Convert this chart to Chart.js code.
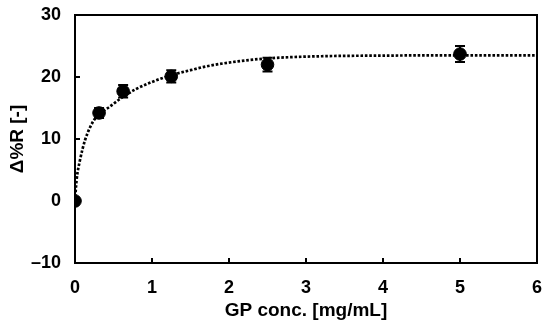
<!DOCTYPE html>
<html>
<head>
<meta charset="utf-8">
<script src="https://cdn.jsdelivr.net/npm/chart.js@4.4.1/dist/chart.umd.min.js"></script>
<style>
    html, body { margin: 0; padding: 0; background: #fff; }
</style>
</head>
<body>
<canvas id="gpCanvas" width="550" height="329"></canvas>
<script>
// measured points (GP conc. vs delta %R)
var concX = [0, 0.3125, 0.625, 1.25, 2.5, 5];
var deltaR = [0, 14.2, 17.7, 20.1, 22.0, 23.7];
var deltaRErr = [0, 0.8, 1.0, 1.0, 1.1, 1.3];

// fitted curve
var fitX = [0, 0.02, 0.065, 0.13, 0.2, 0.28, 0.45, 0.6, 0.8, 1.0, 1.25, 1.5, 1.7, 2.1, 2.5, 3.2, 4, 5, 6];
var fitY = [0, 3.3, 6.6, 9.8, 12.0, 13.6, 15.2, 16.6, 18.1, 19.2, 20.3, 21.1, 21.7, 22.5, 23.0, 23.35, 23.45, 23.5, 23.5];

var xTicks = [0, 1, 2, 3, 4, 5, 6];
var yTicks = [-10, 0, 10, 20, 30];

var FONT = '"Liberation Sans", Arial, sans-serif';

var toPoints = function (xs, ys) {
    var pts = [];
    for (var i = 0; i < xs.length; i++) {
        pts.push({x: xs[i], y: ys[i]});
    }
    return pts;
};

// error bars drawn under the markers
var errorBarPlugin = {
    id: 'errorBars',
    beforeDatasetsDraw: function (chart) {
        var ctx = chart.ctx;
        var xs = chart.scales.x, ys = chart.scales.y;
        ctx.save();
        ctx.strokeStyle = '#000';
        ctx.lineWidth = 2;
        for (var i = 0; i < concX.length; i++) {
            if (!deltaRErr[i]) continue;
            var px = xs.getPixelForValue(concX[i]);
            var top = ys.getPixelForValue(deltaR[i] + deltaRErr[i]);
            var bot = ys.getPixelForValue(deltaR[i] - deltaRErr[i]);
            ctx.beginPath();
            ctx.moveTo(px, top); ctx.lineTo(px, bot);
            ctx.moveTo(px - 5, top); ctx.lineTo(px + 5, top);
            ctx.moveTo(px - 5, bot); ctx.lineTo(px + 5, bot);
            ctx.stroke();
        }
        ctx.restore();
    }
};

// box frame + inward tick marks
var framePlugin = {
    id: 'frame',
    afterDatasetsDraw: function (chart) {
        var ctx = chart.ctx, a = chart.chartArea;
        var xs = chart.scales.x, ys = chart.scales.y;
        ctx.save();
        ctx.strokeStyle = '#000';
        ctx.lineWidth = 2;
        ctx.strokeRect(a.left, a.top, a.right - a.left, a.bottom - a.top);
        ctx.beginPath();
        xTicks.forEach(function (v) {
            var px = xs.getPixelForValue(v);
            ctx.moveTo(px, a.bottom); ctx.lineTo(px, a.bottom - 5);
        });
        yTicks.forEach(function (v) {
            var py = ys.getPixelForValue(v);
            ctx.moveTo(a.left, py); ctx.lineTo(a.left + 5, py);
        });
        ctx.stroke();
        ctx.restore();
    }
};

var ctx = document.getElementById('gpCanvas');
var gpChart = new Chart(ctx, {
    type: 'scatter',
    data: {
        datasets: [
            {
                label: 'fit',
                type: 'line',
                data: toPoints(fitX, fitY),
                borderColor: '#000',
                borderWidth: 2.7,
                borderDash: [2.6, 1.8],
                pointRadius: 0,
                fill: false,
                cubicInterpolationMode: 'monotone',
                order: 2
            },
            {
                label: 'data',
                data: toPoints(concX, deltaR),
                backgroundColor: '#000',
                borderColor: '#000',
                pointRadius: 6.3,
                pointHoverRadius: 6.3,
                order: 1
            }
        ]
    },
    options: {
        responsive: false,
        animation: false,
        layout: {padding: {top: 15, right: 13, left: 0, bottom: 0}},
        plugins: {
            legend: {display: false},
            tooltip: {enabled: false}
        },
        scales: {
            x: {
                type: 'linear',
                min: 0, max: 6,
                afterBuildTicks: function (axis) {
                    axis.ticks = xTicks.map(function (v) { return {value: v}; });
                },
                afterFit: function (axis) {
                    axis.height = 66;
                    axis.paddingLeft = 0;
                    axis.paddingRight = 0;
                },
                grid: {display: false, drawTicks: false},
                border: {display: false},
                ticks: {
                    padding: 14,
                    color: '#000',
                    font: {family: FONT, size: 18, weight: 'bold'}
                },
                title: {
                    display: true,
                    text: 'GP conc. [mg/mL]',
                    color: '#000',
                    padding: {top: 4, bottom: 7},
                    font: {family: FONT, size: 19, weight: 'bold'}
                }
            },
            y: {
                type: 'linear',
                min: -10, max: 30,
                afterBuildTicks: function (axis) {
                    axis.ticks = yTicks.map(function (v) { return {value: v}; });
                },
                afterFit: function (axis) {
                    axis.width = 75;
                    axis.paddingTop = 0;
                    axis.paddingBottom = 0;
                },
                grid: {display: false, drawTicks: false},
                border: {display: false},
                ticks: {
                    padding: 14,
                    color: '#000',
                    font: {family: FONT, size: 18, weight: 'bold'},
                    callback: function (v) { return v < 0 ? '\u2013' + Math.abs(v) : '' + v; }
                },
                title: {
                    display: true,
                    text: '\u0394%R [-]',
                    color: '#000',
                    padding: {top: 6, bottom: 0},
                    font: {family: FONT, size: 19, weight: 'bold'}
                }
            }
        }
    },
    plugins: [errorBarPlugin, framePlugin]
});
</script>
</body>
</html>
